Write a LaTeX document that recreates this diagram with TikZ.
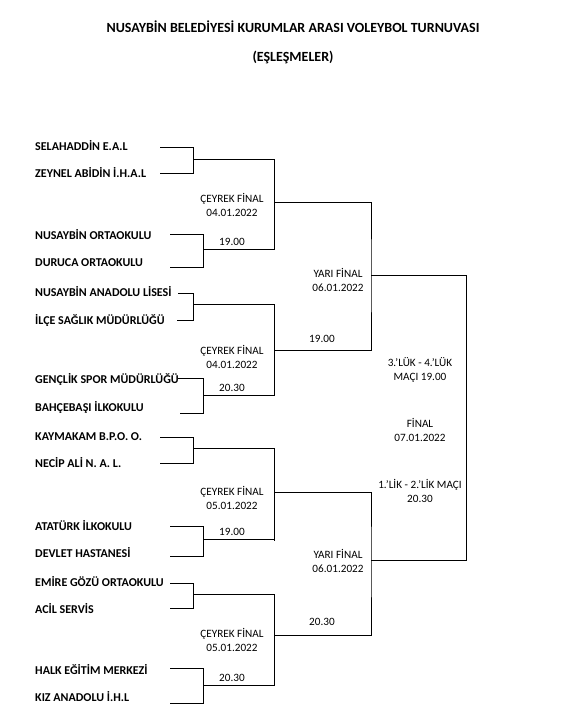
\documentclass[tikz,border=0pt]{standalone}
\usepackage{fontspec}
\setmainfont{Carlito}
\begin{document}
\begin{tikzpicture}[x=1pt,y=-1pt,
  team/.style={anchor=west,font=\fontsize{12}{13}\selectfont\bfseries,inner sep=0pt},
  lbl/.style={font=\fontsize{11.2}{14.5}\selectfont,inner sep=0pt,align=center},
  ttl/.style={font=\fontsize{14}{16}\selectfont\bfseries,inner sep=0pt},
  ln/.style={line width=0.9pt}]
\useasboundingbox (0,0) rectangle (586,725);
\node[ttl] (title) at (293,27) {NUSAYBİN BELEDİYESİ KURUMLAR ARASI VOLEYBOL TURNUVASI};
\node[ttl] (subtitle) at (293,57) {(EŞLEŞMELER)};
% teams
\node[team] (t1) at (35,146) {SELAHADDİN E.A.L};
\node[team] (t2) at (35,173) {ZEYNEL ABİDİN İ.H.A.L};
\node[team] (t3) at (35,235) {NUSAYBİN ORTAOKULU};
\node[team] (t4) at (35,263) {DURUCA ORTAOKULU};
\node[team] (t5) at (35,292) {NUSAYBİN ANADOLU LİSESİ};
\node[team] (t6) at (35,320) {İLÇE SAĞLIK MÜDÜRLÜĞÜ};
\node[team] (t7) at (35,379) {GENÇLİK SPOR MÜDÜRLÜĞÜ};
\node[team] (t8) at (35,407) {BAHÇEBAŞI İLKOKULU};
\node[team] (t9) at (35,437) {KAYMAKAM B.P.O. O.};
\node[team] (t10) at (35,463) {NECİP ALİ N. A. L.};
\node[team] (t11) at (35,526) {ATATÜRK İLKOKULU};
\node[team] (t12) at (35,553) {DEVLET HASTANESİ};
\node[team] (t13) at (35,582) {EMİRE GÖZÜ ORTAOKULU};
\node[team] (t14) at (35,609) {ACİL SERVİS};
\node[team] (t15) at (35,670) {HALK EĞİTİM MERKEZİ};
\node[team] (t16) at (35,697) {KIZ ANADOLU İ.H.L};
% line starts
\coordinate (s1) at (160,147);  \coordinate (s2) at (160,173);
\coordinate (s3) at (170,234);  \coordinate (s4) at (170,267);
\coordinate (s5) at (178,293);  \coordinate (s6) at (177,320);
\coordinate (s7) at (178,378);  \coordinate (s8) at (180,413);
\coordinate (s9) at (160,437);  \coordinate (s10) at (160,463);
\coordinate (s11) at (170,526); \coordinate (s12) at (170,556);
\coordinate (s13) at (170,583); \coordinate (s14) at (170,608);
\coordinate (s15) at (170,668); \coordinate (s16) at (170,703);
% first round brackets
\foreach \a/\b/\jx/\oy/\qx in {1/2/193/159/274, 3/4/203/249/274, 5/6/193/304/274, 7/8/203/395/274,
                             9/10/193/448/274, 11/12/203/539/274, 13/14/193/594/274, 15/16/203/685/274}{
  \draw[ln] (s\a) -| (\jx,0 |- s\b) -- (s\b);
  \draw[ln] (\jx,\oy) -- (\qx,\oy);
}
% quarter-final brackets
\coordinate (q1) at (274,202); \coordinate (q2) at (274,350);
\coordinate (q3) at (274,492); \coordinate (q4) at (274,635);
\draw[ln] (274,159) -- (274,250);
\draw[ln] (274,304) -- (274,396);
\draw[ln] (274,448) -- (274,541);
\draw[ln] (274,594) -- (274,686);
\coordinate (sf1) at (371,275); \coordinate (sf2) at (371,560);
\draw[ln] (q1) -| (sf1) |- (q2);
\draw[ln] (q3) -| (sf2) |- (q4);
\coordinate (fin) at (466,275);
\draw[ln] (sf1) -- (fin) |- (sf2);
% labels
\node[lbl] (l1) at (232,205) {ÇEYREK FİNAL\\04.01.2022};
\node[lbl] (l1t) at (232,242) {19.00};
\node[lbl] (l2) at (232,357) {ÇEYREK FİNAL\\04.01.2022};
\node[lbl] (l2t) at (232,388) {20.30};
\node[lbl] (l3) at (232,498) {ÇEYREK FİNAL\\05.01.2022};
\node[lbl] (l3t) at (232,532) {19.00};
\node[lbl] (l4) at (232,640) {ÇEYREK FİNAL\\05.01.2022};
\node[lbl] (l4t) at (232,678) {20.30};
\node[lbl] (y1) at (338,280) {YARI FİNAL\\06.01.2022};
\node[lbl] (y1t) at (322,339) {19.00};
\node[lbl] (y2) at (338,561) {YARI FİNAL\\06.01.2022};
\node[lbl] (y2t) at (322,622) {20.30};
\node[lbl] (f1) at (420,370) {3.’LÜK - 4.’LÜK\\MAÇI 19.00};
\node[lbl] (f2) at (420,430) {FİNAL\\07.01.2022};
\node[lbl] (f3) at (420,491) {1.’LİK - 2.’LİK MAÇI\\20.30};
\end{tikzpicture}
\end{document}
